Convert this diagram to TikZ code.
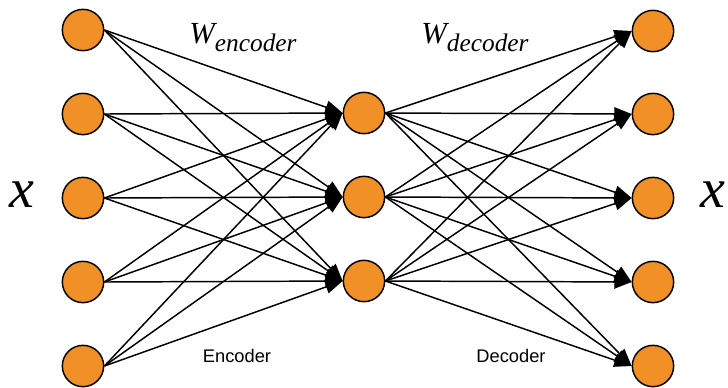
\documentclass[tikz,border=0pt]{standalone}
\usepackage{fontspec}
\newfontfamily\timesf{Liberation Serif}
\newfontfamily\arialf{Liberation Sans}
\usetikzlibrary{arrows.meta}
\definecolor{neuronorange}{RGB}{241,144,39}
\begin{document}
\begin{tikzpicture}[x=0.75pt,y=-0.75pt]
    \tikzset{neuron/.style={circle,draw,line width=1.1pt,fill=neuronorange,minimum size=31pt,inner sep=0pt},
             conn/.style={line width=1.1pt,-{Triangle[length=13pt,width=10pt]}}};
    \useasboundingbox (0,0) rectangle (728,387);
    % input layer
    \node[neuron] (i1) at (83,30) {};
    \node[neuron] (i2) at (83,114) {};
    \node[neuron] (i3) at (83,198) {};
    \node[neuron] (i4) at (83,282) {};
    \node[neuron] (i5) at (83,366) {};
    % code layer
    \node[neuron] (h1) at (364,113) {};
    \node[neuron] (h2) at (364,197) {};
    \node[neuron] (h3) at (364,281) {};
    % output layer
    \node[neuron] (o1) at (653,31) {};
    \node[neuron] (o2) at (653,114) {};
    \node[neuron] (o3) at (653,198) {};
    \node[neuron] (o4) at (653,282) {};
    \node[neuron] (o5) at (653,366) {};
    % labels
    \node (xin) at (22,195) {\fontsize{42}{42}\selectfont\timesf\itshape x};
    \node (xout) at (713,195) {\fontsize{42}{42}\selectfont\timesf\itshape x};
    \node (wenc) at (243,38) {\fontsize{23}{23}\selectfont\timesf\itshape W\raisebox{-6pt}{\fontsize{19}{19}\selectfont encoder}};
    \node (wdec) at (475,38) {\fontsize{23}{23}\selectfont\timesf\itshape W\raisebox{-6pt}{\fontsize{19}{19}\selectfont decoder}};
    \node (enc) at (237,356) {\fontsize{13.7}{14}\selectfont\arialf Encoder};
    \node (dec) at (511,356) {\fontsize{13.7}{14}\selectfont\arialf Decoder};
    % encoder weights
    \draw[conn] (i1.east) -- (h1.west);
    \draw[conn] (i1.east) -- (h2.west);
    \draw[conn] (i1.east) -- (h3.west);
    \draw[conn] (i2.east) -- (h1.west);
    \draw[conn] (i2.east) -- (h2.west);
    \draw[conn] (i2.east) -- (h3.west);
    \draw[conn] (i3.east) -- (h1.west);
    \draw[conn] (i3.east) -- (h2.west);
    \draw[conn] (i3.east) -- (h3.west);
    \draw[conn] (i4.east) -- (h1.west);
    \draw[conn] (i4.east) -- (h2.west);
    \draw[conn] (i4.east) -- (h3.west);
    \draw[conn] (i5.east) -- (h1.west);
    \draw[conn] (i5.east) -- (h2.west);
    \draw[conn] (i5.east) -- (h3.west);
    % decoder weights
    \draw[conn] (h1.east) -- (o1.west);
    \draw[conn] (h1.east) -- (o2.west);
    \draw[conn] (h1.east) -- (o3.west);
    \draw[conn] (h1.east) -- (o4.west);
    \draw[conn] (h1.east) -- (o5.west);
    \draw[conn] (h2.east) -- (o1.west);
    \draw[conn] (h2.east) -- (o2.west);
    \draw[conn] (h2.east) -- (o3.west);
    \draw[conn] (h2.east) -- (o4.west);
    \draw[conn] (h2.east) -- (o5.west);
    \draw[conn] (h3.east) -- (o1.west);
    \draw[conn] (h3.east) -- (o2.west);
    \draw[conn] (h3.east) -- (o3.west);
    \draw[conn] (h3.east) -- (o4.west);
    \draw[conn] (h3.east) -- (o5.west);
\end{tikzpicture}
\end{document}
